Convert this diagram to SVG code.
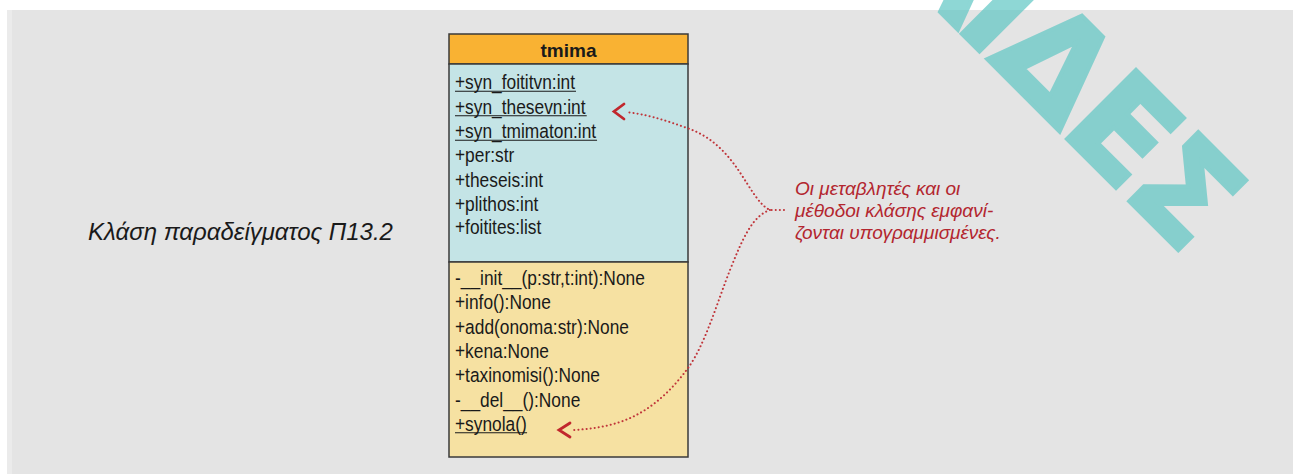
<svg xmlns="http://www.w3.org/2000/svg" width="1293" height="474" viewBox="0 0 1293 474">
<style>
.mem{font-family:"Liberation Sans",Arial,sans-serif;font-size:19.5px;fill:#1a1a1a}
.ul{stroke:#1a1a1a;stroke-width:1.1}
.note{font-family:"Liberation Sans",Arial,sans-serif;font-style:italic;font-size:19px;fill:#b3262f}
.dot{fill:none;stroke:#c0353a;stroke-width:2;stroke-linecap:round;stroke-dasharray:0.1 4}
.head{fill:none;stroke:#c1272d;stroke-width:2.8;stroke-linecap:round;stroke-linejoin:miter}
.box{stroke:#3a3a3a;stroke-width:1.5}
</style>
<rect x="0" y="0" width="1293" height="474" fill="#ffffff"/>
<rect x="7" y="10" width="1286" height="464" fill="#e4e4e4"/>
<rect x="7" y="10" width="5" height="464" fill="#ebebeb"/>
<g id="watermark" transform="translate(943 15) rotate(45)" opacity="0.7" fill="#5fc7c4" stroke="#5fc7c4" stroke-width="4" font-family="'DejaVu Sans',sans-serif" font-weight="bold" font-size="134">
<text x="-82" y="0">Λ</text>
<text x="14" y="0">Ι</text>
<text x="62" y="0">Δ</text>
<text x="163" y="0">Ε</text>
<text x="251" y="0">Σ</text>
</g>
<g id="label">
<text x="88" y="240" font-family="'Liberation Sans',Arial,sans-serif" font-style="italic" font-size="24" fill="#1a1a1a">Κλάση παραδείγματος Π13.2</text>
</g>
<g id="class-tmima">
<rect class="box" x="449" y="34" width="239" height="30" fill="#f9b233"/>
<rect class="box" x="449" y="64" width="239" height="198" fill="#c4e4e6"/>
<rect class="box" x="449" y="262" width="239" height="195" fill="#f6e1a2"/>
<text x="568.5" y="56.5" text-anchor="middle" font-family="'Liberation Sans',Arial,sans-serif" font-weight="bold" font-size="19" fill="#1a1a1a">tmima</text>
<g transform="translate(455 0) scale(0.89 1)">
<text class="mem" x="0" y="89.3">+syn_foititvn:int</text>
<line class="ul" x1="0" y1="91.3" x2="136" y2="91.3"/>
<text class="mem" x="0" y="113.7">+syn_thesevn:int</text>
<line class="ul" x1="0" y1="115.7" x2="148" y2="115.7"/>
<text class="mem" x="0" y="138.2">+syn_tmimaton:int</text>
<line class="ul" x1="0" y1="140.2" x2="159.6" y2="140.2"/>
<text class="mem" x="0" y="162.4">+per:str</text>
<text class="mem" x="0" y="186.6">+theseis:int</text>
<text class="mem" x="0" y="210.7">+plithos:int</text>
<text class="mem" x="0" y="234.4">+foitites:list</text>
<text class="mem" x="0" y="285">-__init__(p:str,t:int):None</text>
<text class="mem" x="0" y="309.3">+info():None</text>
<text class="mem" x="0" y="333.8">+add(onoma:str):None</text>
<text class="mem" x="0" y="358.2">+kena:None</text>
<text class="mem" x="0" y="382.4">+taxinomisi():None</text>
<text class="mem" x="0" y="406.7">-__del__():None</text>
<text class="mem" x="0" y="430.8">+synola()</text>
<line class="ul" x1="0" y1="432.8" x2="81" y2="432.8"/>
</g>
</g>
<g id="note">
<text class="note" x="795" y="195">Οι μεταβλητές και οι</text>
<text class="note" x="795" y="217">μέθοδοι κλάσης εμφανί-</text>
<text class="note" x="795" y="239">ζονται υπογραμμισμένες.</text>
</g>
<g id="connectors">
<path class="dot" d="M784,210 L770,210 C748,200 738,145 687,128 C665,120 645,114 626,112"/>
<path class="dot" d="M770,210 C752,216 742,240 730,270 C718,300 705,345 688,368 C672,390 650,412 620,422 C605,427 590,429 574,430"/>
<path class="head" d="M624,104 L614,111.5 L624,119"/>
<path class="head" d="M570,423 L559,430 L570,437"/>
</g>
</svg>
